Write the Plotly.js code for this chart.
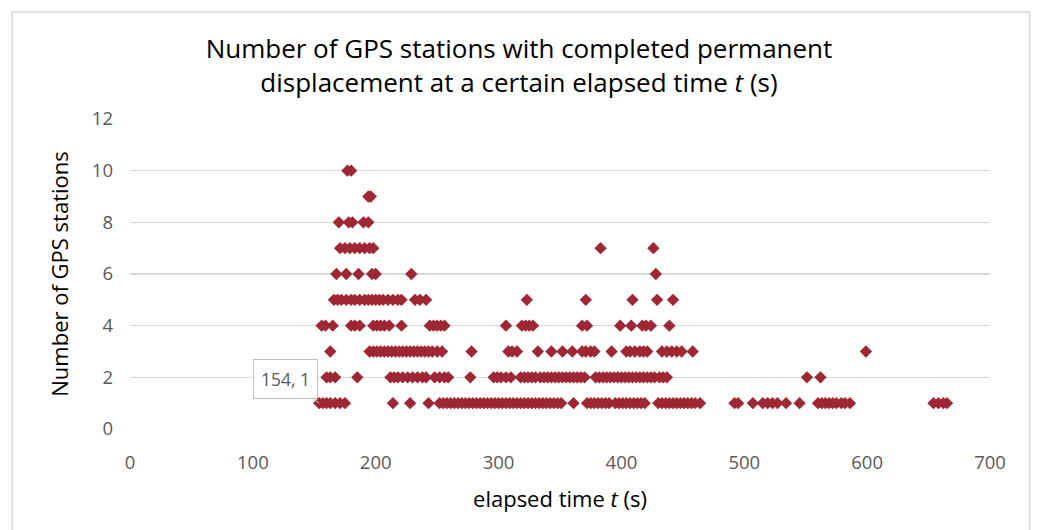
<!DOCTYPE html>
<html>
<head>
<meta charset="utf-8">
<script src="https://cdn.plot.ly/plotly-3.0.1.min.js"></script>
<style>
html,body{margin:0;padding:0;background:#fff;}
#chart{width:1038px;height:530px;}
</style>
</head>
<body>
<div id="chart"></div>
<script>
// Elapsed times (s) grouped by number of GPS stations
const t10 = [177, 180];
const t9 = [194, 196];
const t8 = [170, 178, 181, 190, 194];
const t7 = [171, 175, 179, 183, 187, 191, 195, 198, 383, 426];
const t6 = [168, 176, 186, 197, 200, 229, 428];
const t5 = [166, 169, 172, 176, 180, 183, 187, 191, 194, 197, 200, 203, 206, 210, 214, 218, 221, 232, 236, 241, 323, 371, 409, 429, 442];
const t4 = [156, 159, 165, 180, 183, 187, 198, 201, 204, 207, 211, 221, 244, 247, 250, 253, 256, 306, 319, 322, 325, 328, 368, 372, 399, 408, 417, 420, 424, 439];
const t3 = [163, 195, 198, 201, 204, 207, 210, 213, 216, 219, 222, 225, 228, 231, 234, 237, 240, 243, 246, 250, 254, 278, 308, 311, 315, 332, 343, 352, 360, 368, 371, 375, 378, 392, 404, 407, 411, 415, 418, 421, 433, 437, 441, 445, 449, 458, 599];
const t2 = [160, 163, 167, 185, 212, 215, 218, 222, 226, 230, 234, 238, 241, 248, 252, 256, 259, 277, 296, 299, 302, 306, 310, 318, 321, 324, 327, 330, 334, 337, 340, 343, 346, 349, 352, 355, 358, 361, 364, 367, 370, 379, 382, 385, 388, 391, 394, 397, 400, 403, 406, 409, 412, 415, 418, 421, 424, 427, 431, 434, 437, 551, 562];
const t1 = [154, 157, 160, 163, 167, 171, 175, 214, 228, 243, 252, 255, 258, 261, 264, 267, 270, 273, 276, 279, 282, 285, 288, 291, 294, 297, 300, 303, 306, 309, 312, 315, 318, 321, 324, 327, 330, 333, 336, 339, 342, 345, 348, 351, 361, 372, 375, 378, 381, 384, 387, 390, 395, 398, 401, 404, 407, 410, 413, 416, 419, 430, 433, 436, 439, 442, 445, 448, 451, 454, 457, 460, 464, 492, 495, 507, 515, 519, 523, 527, 534, 545, 560, 563, 566, 569, 572, 575, 579, 582, 586, 654, 658, 662, 665];

const groups = [[10, t10], [9, t9], [8, t8], [7, t7], [6, t6], [5, t5], [4, t4], [3, t3], [2, t2], [1, t1]];
const xs = [], ys = [];
groups.forEach(([n, arr]) => arr.forEach(v => { xs.push(v); ys.push(n); }));

const xTicks = [0, 100, 200, 300, 400, 500, 600, 700];
const yTicks = [0, 2, 4, 6, 8, 10, 12];

const font = "'Open Sans', sans-serif";
const trace = {
  type: 'scatter', mode: 'markers', x: xs, y: ys,
  marker: {symbol: 'diamond', size: 9.5, color: '#9E2733'},
  hoverinfo: 'x+y'
};

const layout = {
  width: 1038, height: 530,
  margin: {l: 130, r: 48, t: 119, b: 101},
  paper_bgcolor: '#ffffff', plot_bgcolor: '#ffffff',
  showlegend: false,
  font: {family: font, color: '#595959', size: 18},
  title: {
    text: 'Number of GPS stations with completed permanent<br>displacement at a certain elapsed time <i>t</i> (s)',
    font: {family: font, size: 26, color: '#000000'},
    x: 0.5, xanchor: 'center', y: 0.89, yanchor: 'middle'
  },
  xaxis: {
    range: [0, 700], tickvals: xTicks, ticktext: xTicks.map(String),
    showgrid: false, zeroline: false, showline: false, ticks: '',
    ticklabelstandoff: 20,
    tickfont: {size: 18.5, color: '#595959', family: font},
    title: {text: 'elapsed time <i>t</i> (s)', font: {size: 22, color: '#000000', family: font}, standoff: 19}
  },
  yaxis: {
    range: [0, 12], tickvals: yTicks, ticktext: yTicks.map(String),
    showgrid: true, gridcolor: '#d9d9d9', gridwidth: 1.5, zeroline: false, showline: false, ticks: '',
    ticklabelstandoff: 16,
    tickfont: {size: 18.5, color: '#595959', family: font},
    title: {text: 'Number of GPS stations', font: {size: 22, color: '#000000', family: font}, standoff: 17}
  },
  shapes: [{
    type: 'rect', xref: 'paper', yref: 'paper',
    x0: -0.137, x1: 1.046, y0: -0.5, y1: 1.345,
    line: {color: '#d9d9d9', width: 1.5}, fillcolor: 'rgba(0,0,0,0)', layer: 'below'
  }],
  annotations: [{
    x: 154, y: 1, xref: 'x', yref: 'y',
    text: '154, 1', showarrow: true, arrowhead: 0, arrowwidth: 1, arrowcolor: '#bfbfbf',
    ax: -34, ay: -24, bordercolor: '#bfbfbf', borderwidth: 1, borderpad: 7,
    bgcolor: '#ffffff', font: {size: 17.5, color: '#595959', family: font}
  }]
};

Plotly.newPlot('chart', [trace], layout, {displayModeBar: false, staticPlot: true});
</script>
</body>
</html>
